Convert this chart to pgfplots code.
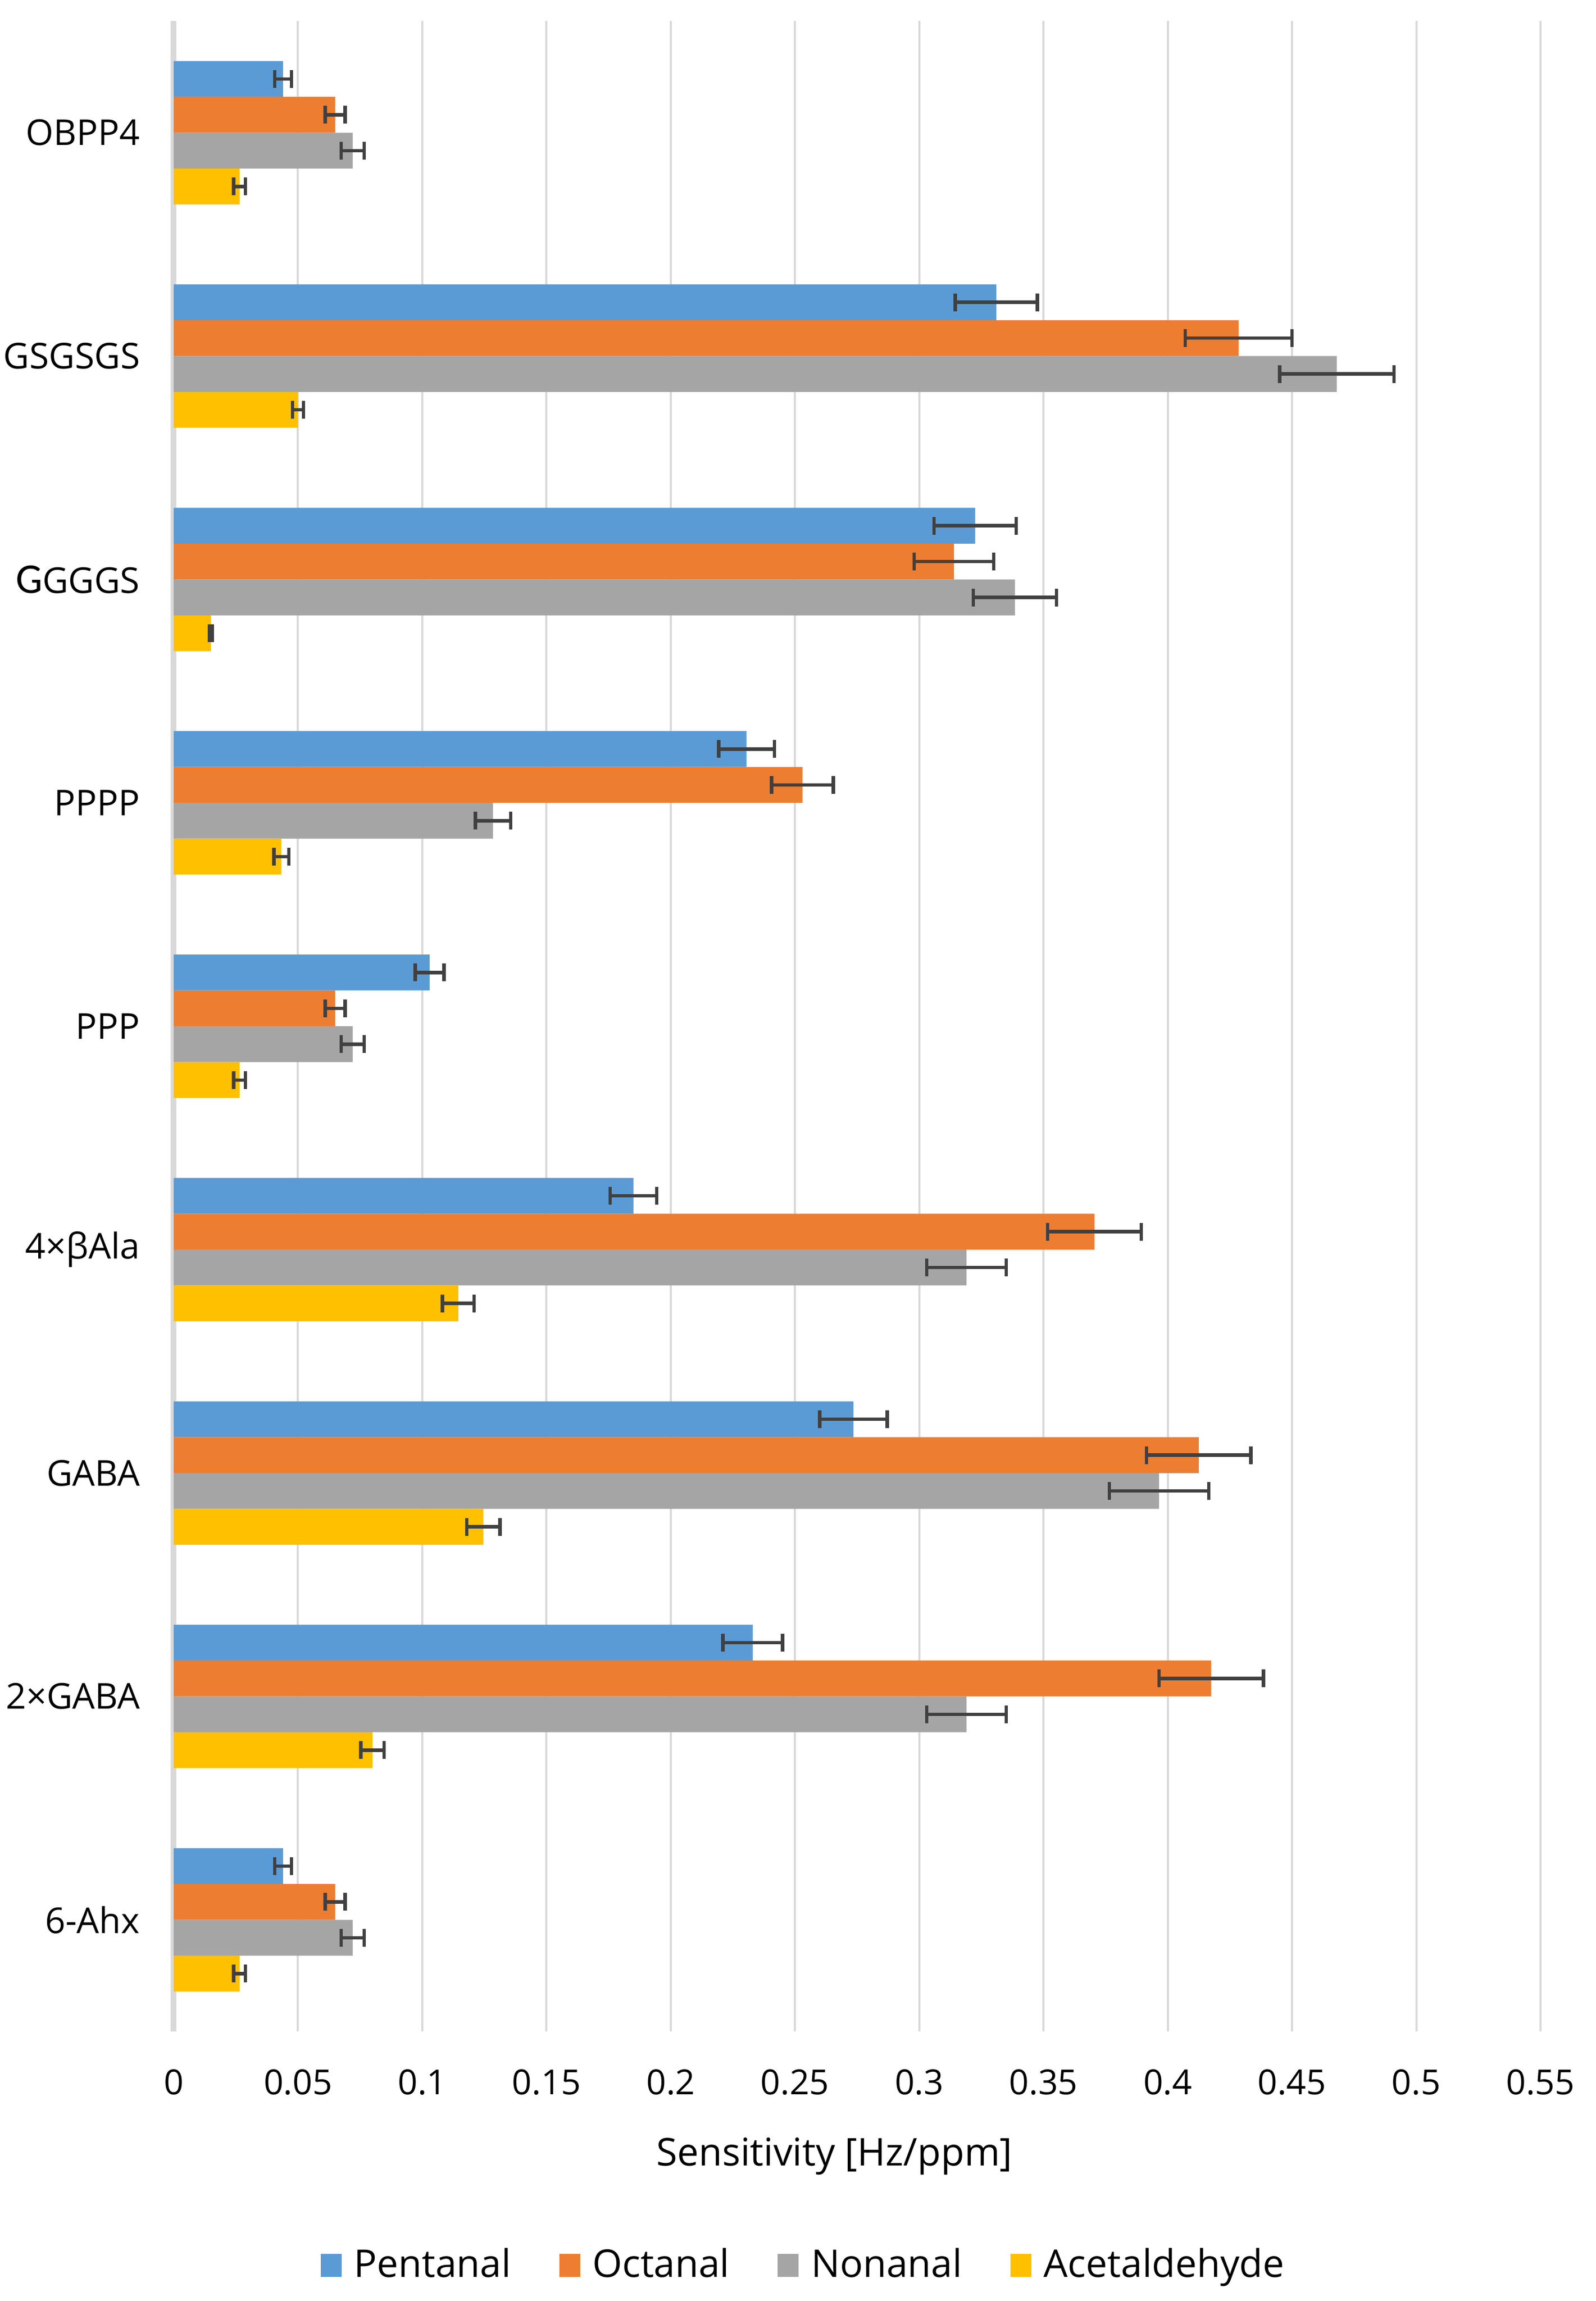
\documentclass[border=0pt]{standalone}
\usepackage{fontspec}
\setmainfont{Open Sans}
\newfontfamily\carlito{Carlito}
\usepackage{pgfplots}
\usepackage{pgfplotstable}
\pgfplotsset{compat=1.18}
\definecolor{cPent}{HTML}{5B9BD5}
\definecolor{cOct}{HTML}{ED7D31}
\definecolor{cNon}{HTML}{A5A5A5}
\definecolor{cAce}{HTML}{FFC000}
\definecolor{cGrid}{HTML}{D9D9D9}
\definecolor{cErr}{HTML}{404040}

% c: category index (0 = 6-Ahx at bottom ... 8 = OBPP4 at top)
\pgfplotstableread{
c v e
0 0.044 0.0034
1 0.233 0.012
2 0.2735 0.0136
3 0.185 0.0094
4 0.103 0.0058
5 0.2305 0.0112
6 0.3225 0.0165
7 0.331 0.0165
8 0.044 0.0034
}\pentanal
\pgfplotstableread{
c v e
0 0.065 0.004
1 0.4175 0.021
2 0.4125 0.021
3 0.3705 0.0188
4 0.065 0.004
5 0.253 0.0124
6 0.314 0.016
7 0.4285 0.0215
8 0.065 0.004
}\octanal
\pgfplotstableread{
c v e
0 0.072 0.0046
1 0.319 0.016
2 0.3965 0.020
3 0.319 0.016
4 0.072 0.0046
5 0.1285 0.0071
6 0.3385 0.0167
7 0.468 0.023
8 0.072 0.0046
}\nonanal
\pgfplotstableread{
c v e
0 0.0265 0.0024
1 0.080 0.0047
2 0.1246 0.0067
3 0.1145 0.0064
4 0.0265 0.0024
5 0.0433 0.003
6 0.015 0.0006
7 0.050 0.0022
8 0.0265 0.0024
}\acetaldehyde

\begin{document}
\fontsize{7.3pt}{8.8pt}\selectfont
\begin{tikzpicture}
\path[use as bounding box] (0,0) rectangle (305pt,439.7pt);
\begin{axis}[
  at={(33.2pt,51.5pt)}, anchor=south west,
  scale only axis, width=261.2pt, height=384.2pt,
  xmin=0, xmax=0.55, ymin=-0.5, ymax=8.5,
  xbar, bar width=6.85pt,
  axis line style={draw=none},
  tick style={draw=none},
  xtick={0,0.05,0.1,0.15,0.2,0.25,0.3,0.35,0.4,0.45,0.5,0.55},
  xticklabels={0,0.05,0.1,0.15,0.2,0.25,0.3,0.35,0.4,0.45,0.5,0.55},
  xmajorgrids,
  major grid style={draw=cGrid, line width=0.4pt},
  extra x ticks={0}, extra x tick labels={},
  extra x tick style={grid=major, major grid style={draw=cGrid, line width=1.1pt}},
  ytick={0,1,2,3,4,5,6,7,8},
  yticklabels={6-Ahx,2×GABA,GABA,4×βAla,PPP,PPPP,{{\carlito\fontsize{8.1pt}{9pt}\selectfont G}GGGS},GSGSGS,OBPP4},
  /pgf/number format/assume math mode=true,
  xticklabel style={anchor=center, yshift=-9.7pt, inner sep=0pt, font=\fontsize{6.6pt}{8pt}\selectfont},
  yticklabel style={anchor=east, inner sep=0pt, xshift=-2pt, font=\fontsize{6.8pt}{8pt}\selectfont},
  xlabel={Sensitivity [Hz/ppm]},
  xlabel style={at={(axis description cs:0.4835,-0.0622)}, anchor=center, inner sep=0pt},
  legend style={at={(axis description cs:0.460,-0.1163)}, anchor=center, draw=none, fill=none,
    legend columns=-1, /tikz/every even column/.append style={column sep=9.2pt},
    nodes={inner sep=0pt, anchor=west}},
  legend image code/.code={\fill[#1] (0pt,-2.2pt) rectangle (4pt,2.2pt);},
  legend cell align=left,
  error bars/error mark=|,
  error bars/error bar style={line width=0.65pt, draw=cErr},
  error bars/error mark options={line width=0.65pt, mark size=1.7pt, draw=cErr},
]
\addplot[fill=cPent, draw=none, bar shift=10.275pt,
  error bars/.cd, x dir=both, x explicit]
  table[x=v, y=c, x error=e] {\pentanal};
\addlegendentry{\hspace{2.4pt}Pentanal}
\addplot[fill=cOct, draw=none, bar shift=3.425pt,
  error bars/.cd, x dir=both, x explicit]
  table[x=v, y=c, x error=e] {\octanal};
\addlegendentry{\hspace{2.4pt}Octanal}
\addplot[fill=cNon, draw=none, bar shift=-3.425pt,
  error bars/.cd, x dir=both, x explicit]
  table[x=v, y=c, x error=e] {\nonanal};
\addlegendentry{\hspace{2.4pt}Nonanal}
\addplot[fill=cAce, draw=none, bar shift=-10.275pt,
  error bars/.cd, x dir=both, x explicit]
  table[x=v, y=c, x error=e] {\acetaldehyde};
\addlegendentry{\hspace{2.4pt}Acetaldehyde}
\end{axis}
\end{tikzpicture}
\end{document}
